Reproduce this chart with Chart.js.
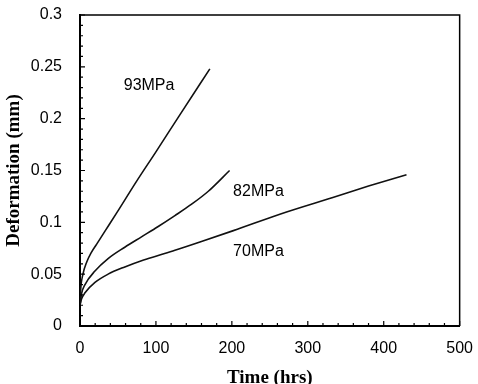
<!DOCTYPE html>
<html>
<head>
<meta charset="utf-8">
<script src="https://cdn.jsdelivr.net/npm/chart.js@4/dist/chart.umd.min.js"></script>
<style>
    html, body { margin: 0; padding: 0; background: #fff; }
    #wrap { width: 478px; height: 384px; }
</style>
</head>
<body>
<div id="wrap"><canvas id="creep"></canvas></div>
<script>
// creep curves, time in hrs, deformation in mm
const t93 = [0, 1, 3.9, 9, 15, 22, 32.5, 50, 74, 100, 130, 171];
const v93 = [0.020, 0.036, 0.050, 0.062, 0.071, 0.079, 0.091, 0.111, 0.139, 0.168, 0.202, 0.248];

const t82 = [0, 2, 6.6, 19.7, 37, 59, 81, 103, 125, 147, 169, 197];
const v82 = [0.020, 0.031, 0.040, 0.053, 0.065, 0.076, 0.086, 0.096, 0.1065, 0.1175, 0.130, 0.150];

const t70 = [0, 2, 6.6, 19.7, 37, 59, 81, 103, 125, 158, 202, 272, 333, 380, 430];
const v70 = [0.020, 0.026, 0.032, 0.042, 0.050, 0.057, 0.063, 0.068, 0.073, 0.081, 0.092, 0.110, 0.124, 0.135, 0.146];

const seriesNames = ["93MPa", "82MPa", "70MPa"];
// where each stress label sits, in data units
const labelX = [91, 235, 235];
const labelY = [0.232, 0.130, 0.072];

const xTicks = [0, 100, 200, 300, 400, 500];
const yTicks = [0, 0.05, 0.1, 0.15, 0.2, 0.25, 0.3];

const pts = (t, v) => t.map((x, i) => ({ x, y: v[i] }));

const line = (name, t, v) => ({
    label: name,
    data: pts(t, v),
    showLine: true,
    borderColor: "#111",
    borderWidth: 1.6,
    pointRadius: 0,
    cubicInterpolationMode: "monotone",
    fill: false,
});

const frame = {
    id: "frame",
    afterDraw(chart) {
        const { ctx, chartArea: a, scales } = chart;
        ctx.save();
        ctx.strokeStyle = "#000";
        ctx.lineWidth = 1.5;
        ctx.beginPath();
        ctx.moveTo(a.left, a.top);
        ctx.lineTo(a.right, a.top);
        ctx.lineTo(a.right, a.bottom);
        ctx.stroke();

        // inward tick marks
        ctx.lineWidth = 1.2;
        ctx.beginPath();
        for (let x = 0; x <= 500; x += 20) {
            const px = scales.x.getPixelForValue(x);
            const len = x % 100 === 0 ? 5 : 3;
            ctx.moveTo(px, a.bottom);
            ctx.lineTo(px, a.bottom - len);
        }
        for (let i = 0; i <= 30; i++) {
            const py = scales.y.getPixelForValue(i / 100);
            const len = i % 5 === 0 ? 5 : 3;
            ctx.moveTo(a.left, py);
            ctx.lineTo(a.left + len, py);
        }
        ctx.stroke();

        ctx.fillStyle = "#000";
        ctx.font = "16px 'Liberation Sans', Arial, sans-serif";
        ctx.textAlign = "center";
        ctx.textBaseline = "middle";
        seriesNames.forEach((n, i) => {
            ctx.fillText(n, scales.x.getPixelForValue(labelX[i]), scales.y.getPixelForValue(labelY[i]));
        });
        ctx.restore();
    }
};

const tickFont = { family: "'Liberation Sans', Arial, sans-serif", size: 16 };
const titleFont = { family: "'Liberation Serif', 'Times New Roman', serif", size: 19, weight: "bold" };

new Chart(document.getElementById("creep").getContext("2d"), {
    type: "scatter",
    data: {
        datasets: [
            line(seriesNames[0], t93, v93),
            line(seriesNames[1], t82, v82),
            line(seriesNames[2], t70, v70),
        ],
    },
    options: {
        responsive: true,
        maintainAspectRatio: false,
        animation: false,
        layout: { padding: { top: 15, right: 18, left: 0, bottom: 0 } },
        plugins: { legend: { display: false }, tooltip: { enabled: false } },
        scales: {
            x: {
                type: "linear",
                min: 0,
                max: 500,
                afterBuildTicks: s => { s.ticks = xTicks.map(value => ({ value })); },
                ticks: { color: "#000", font: tickFont, padding: 5, maxRotation: 0 },
                grid: { display: false },
                border: { display: true, color: "#000", width: 2 },
                title: { display: true, text: "Time (hrs)", color: "#000", font: titleFont, padding: { top: 0, bottom: -5 } },
                afterFit: s => { s.height = 58; },
            },
            y: {
                type: "linear",
                min: 0,
                max: 0.3,
                afterBuildTicks: s => { s.ticks = yTicks.map(value => ({ value })); },
                ticks: {
                    color: "#000",
                    font: tickFont,
                    padding: 10,
                    callback: v => String(Number(v.toFixed(2))),
                },
                grid: { display: false },
                border: { display: true, color: "#000", width: 2 },
                title: { display: true, text: "Deformation (mm)", color: "#000", font: titleFont, padding: { top: 3, bottom: 0 } },
                afterFit: s => {
                    s.width = 80;
                    s.paddingTop = 0;
                    s.paddingBottom = 0;
                },
            },
        },
    },
    plugins: [frame],
});
</script>
</body>
</html>
